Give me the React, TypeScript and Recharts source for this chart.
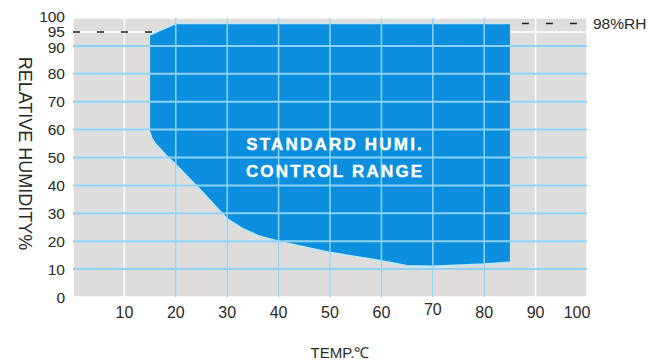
import {
  ComposedChart, Area, XAxis, YAxis, CartesianGrid, ReferenceLine, ReferenceDot, Label,
} from 'recharts'

// control range boundary: temperature (°C) -> [min RH, max RH]
const temps = [15, 15.3, 16, 17, 18, 20, 25, 28, 30, 33, 36, 40, 50, 60, 65, 70, 80, 85]
const rhLow = [59, 57, 55, 53, 51, 47.5, 38, 32, 28, 24.5, 22, 20, 16, 13, 11.2, 11, 11.8, 12.5]
const rhHigh = [94, 94.2, 94.8, 95.6, 96.4, 98, 98, 98, 98, 98, 98, 98, 98, 98, 98, 98, 98, 98]

const xTicks = [10, 20, 30, 40, 50, 60, 70, 80, 90, 100]
const yTicks = [0, 10, 20, 30, 40, 50, 60, 70, 80, 90, 95, 100]
const gridX = [10, 20, 30, 40, 50, 60, 70, 80, 90]
const gridY = [10, 20, 30, 40, 50, 60, 70, 80, 90]

const data = temps.map((t, i) => ({ t, range: [rhLow[i], rhHigh[i]] }))

const FONT = '"Liberation Sans", Arial, sans-serif'
const INK = '#2a2a2a'
const W = 665
const H = 364
const MARGIN = { top: 18, right: 78, bottom: 0, left: 0 }
const OVERLAY_MARGIN = { top: 18, right: 78, bottom: 67, left: 73 }
const FAINT = '#8fd3f4'

function XTick({ x, y, payload }: any) {
  const dx = payload.value === 100 ? -10 : 0
  const dy = payload.value === 70 ? -3 : 0
  return (
    <text x={x + dx} y={y + dy} dy="0.71em" textAnchor="middle" fontSize={16} fontFamily={FONT} fill={INK}>
      {payload.value}
    </text>
  )
}

function YTick({ x, y, payload }: any) {
  const v = payload.value
  const dy = v === 100 ? -2 : v === 90 ? 1.5 : 0
  return (
    <text x={x} y={y + dy} dy="0.355em" textAnchor="end" fontSize={15.5} fontFamily={FONT} fill={INK}>
      {v}
    </text>
  )
}

function YTitle({ viewBox }: any) {
  const cy = viewBox.y + viewBox.height / 2 - 4
  return (
    <text x={0} y={0} transform={`translate(19 ${cy}) rotate(90)`} textAnchor="middle"
      fontSize={18} fontFamily={FONT} fill={INK}>
      RELATIVE HUMIDITY%
    </text>
  )
}

function AreaTitle({ viewBox }: any) {
  const x = viewBox.x
  const y = viewBox.y
  return (
    <text x={x} y={y} textAnchor="middle" fontSize={17} fontWeight="bold" fontFamily={FONT}
      fill="#fff" stroke="#fff" strokeWidth={0.4} letterSpacing={2.2}>
      <tspan x={x} dy={-2}>STANDARD HUMI.</tspan>
      <tspan x={x} dy={27}>CONTROL RANGE</tspan>
    </text>
  )
}

export default function App() {
  return (
    <div style={{ position: 'absolute', left: 0, top: 0, width: W, height: H, background: '#fff' }}>
      <ComposedChart width={W} height={H} data={data} margin={MARGIN}>
        <CartesianGrid fill="#dedddb" stroke="#fff" strokeWidth={1.5} />
        <XAxis dataKey="t" type="number" domain={[0, 100]} ticks={xTicks}
          axisLine={false} tickLine={false} tick={<XTick />} height={67} tickMargin={4}>
          <Label value="TEMP.℃" position="insideBottom" offset={6} dx={10}
            style={{ fontSize: 15, fontFamily: FONT, fill: INK }} />
        </XAxis>
        <YAxis type="number" domain={[0, 100]} ticks={yTicks} interval={0}
          axisLine={false} tickLine={false} tick={<YTick />} width={73}>
          <Label content={<YTitle />} />
        </YAxis>
        <ReferenceLine segment={[{ x: 85, y: 98 }, { x: 100, y: 98 }]} stroke="#222"
          strokeWidth={1.5} strokeDasharray="7 17" strokeDashoffset={-12} ifOverflow="visible" />
        <Area dataKey="range" type="linear" fill="#0b8fde" fillOpacity={1}
          stroke="#bfe9f8" strokeWidth={1.5} isAnimationActive={false} />
        <ReferenceDot x={100} y={98} r={0} ifOverflow="visible"
          label={{ value: '98%RH', position: 'right', offset: 6, style: { fontSize: 15.5, fontFamily: FONT, fill: INK } }} />
      </ComposedChart>
      {/* grid redrawn over the blue region only, clipped to the area's own shape */}
      <div style={{ position: 'absolute', left: 0, top: 0 }}>
        <ComposedChart width={W} height={H} data={data} margin={OVERLAY_MARGIN}>
          <XAxis dataKey="t" type="number" domain={[0, 100]} ticks={gridX} hide />
          <YAxis type="number" domain={[0, 100]} ticks={gridY} interval={0} hide />
          <Area dataKey="range" type="linear" fillOpacity={0} strokeOpacity={0} isAnimationActive={false} />
          {gridX.filter(v => v > 15 && v < 85).map(v => (
            <ReferenceLine key={'x' + v} x={v} stroke={FAINT} strokeWidth={1.5}
              segment={[{ x: v, y: rhLow[temps.findIndex(t => t >= v)] + 0.5 }, { x: v, y: 97.8 }]} />
          ))}
          {gridY.map(v => (
            <ReferenceLine key={'y' + v} y={v} stroke={FAINT} strokeWidth={2} />
          ))}
          <ReferenceLine segment={[{ x: 0, y: 95 }, { x: 15.5, y: 95 }]} stroke="#222"
            strokeWidth={1.5} strokeDasharray="7 17" />
          <ReferenceDot x={51} y={52} r={0} label={<AreaTitle />} />
        </ComposedChart>
      </div>
    </div>
  )
}
